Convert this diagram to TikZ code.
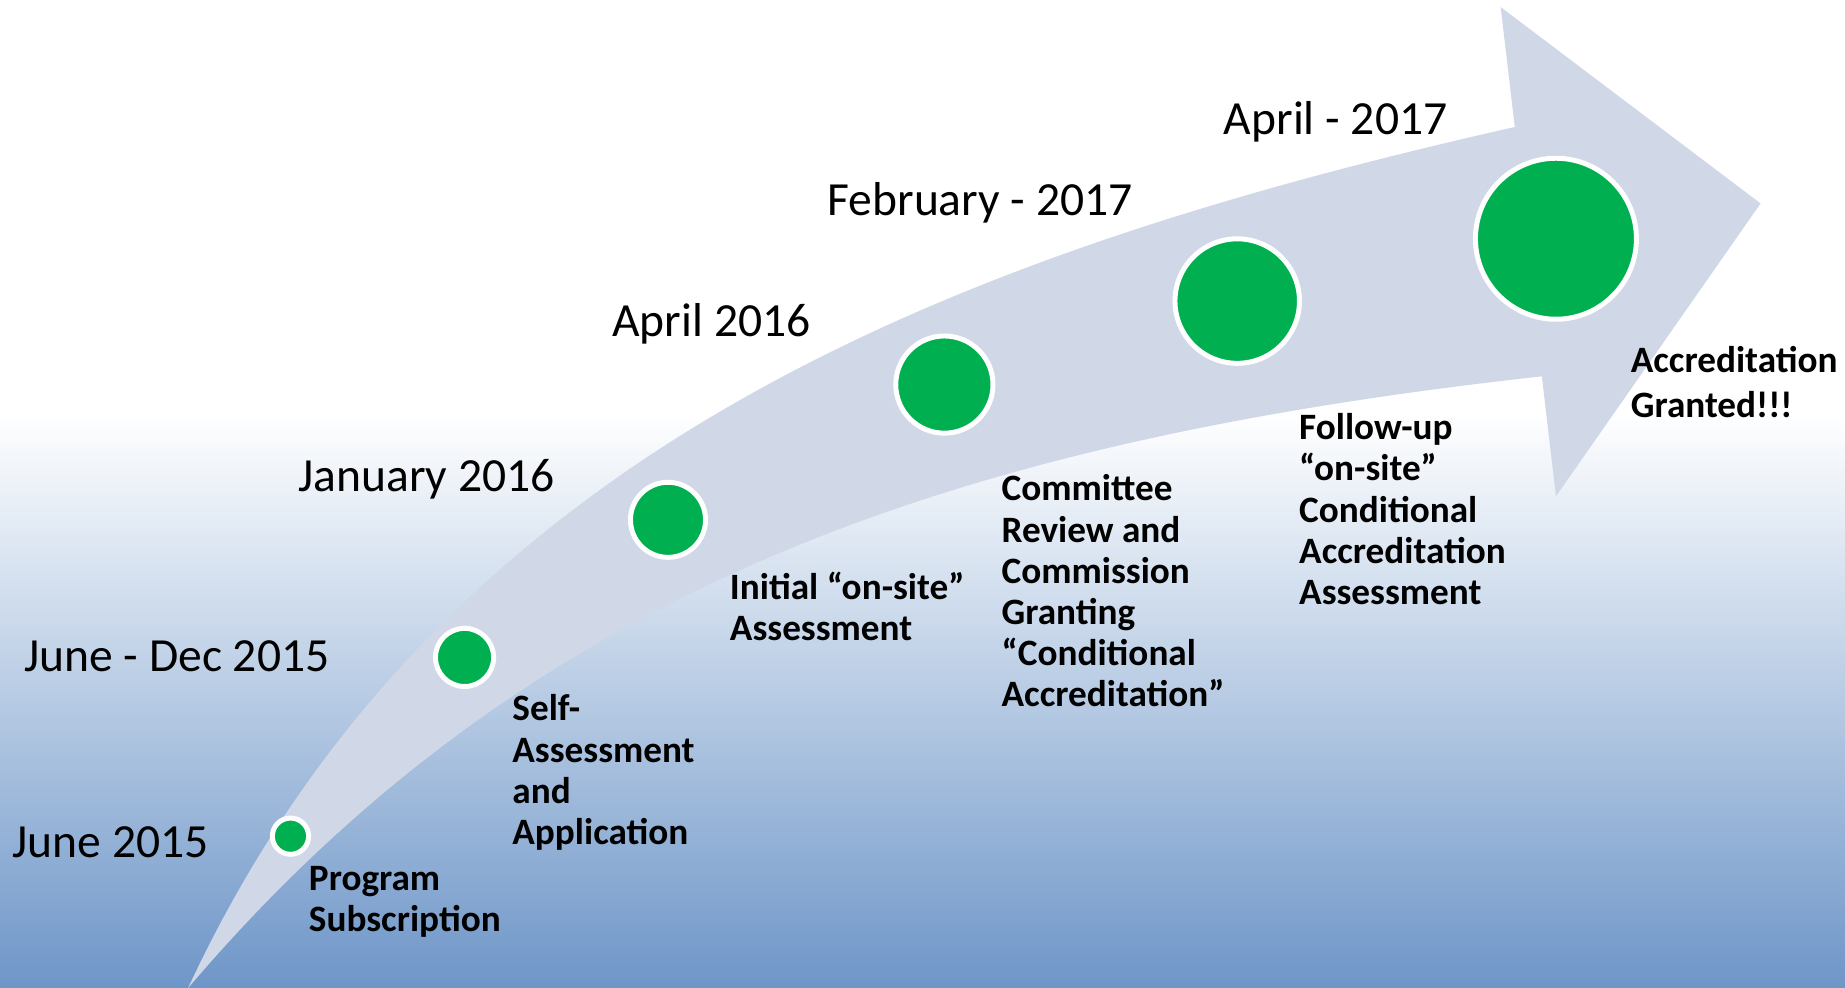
\documentclass[tikz,border=0pt]{standalone}
\usepackage{fontspec}
\setmainfont{Carlito}
\definecolor{bgblue}{RGB}{110,150,200}
\definecolor{band}{RGB}{208,216,232}
\definecolor{dotgreen}{RGB}{0,176,80}
\begin{document}
\begin{tikzpicture}[x=0.01cm,y=-0.01cm,
  dot/.style={circle, fill=dotgreen, draw=white, line width=1.2pt, inner sep=0pt},
  datelabel/.style={anchor=base west, inner sep=0pt, font=\fontsize{11.5pt}{14pt}\selectfont},
  eventlabel/.style={anchor=base west, inner sep=0pt, align=left, font=\fontsize{9pt}{9.96pt}\selectfont\bfseries}]
\useasboundingbox (0,0) rectangle (1568.8,840);
\fill[white] (0,0) rectangle (1568.8,352);
\shade[top color=white, bottom color=bgblue] (0,351) rectangle (1568.8,840);
% arrow
\fill[band] (160,840) .. controls (371,387) and (800,218) .. (1288,108) -- (1276,6) -- (1497,173) -- (1323,422) -- (1311,320) .. controls (814,375) and (452,497) .. (160,840) -- cycle;
% dots
\node[dot, minimum size=0.308cm] (c1) at (247,711) {};
\node[dot, minimum size=0.494cm] (c2) at (395,559) {};
\node[dot, minimum size=0.638cm] (c3) at (568,442) {};
\node[dot, minimum size=0.826cm] (c4) at (803,327) {};
\node[dot, minimum size=1.058cm] (c5) at (1052,256) {};
\node[dot, minimum size=1.368cm] (c6) at (1323,203) {};
% dates
\node[datelabel] (d1) at (10,729) {June 2015};
\node[datelabel] (d2) at (20,571) {June - Dec 2015};
\node[datelabel] (d3) at (253,418) {January 2016};
\node[datelabel] (d4) at (520,286) {April 2016};
\node[datelabel] (d5) at (703,183) {February - 2017};
\node[datelabel] (d6) at (1040,114) {April - 2017};
% events (anchor = baseline of the last line)
\node[eventlabel] (e1) at (262,792) {Program\\Subscription};
\node[eventlabel] (e2) at (435,718) {Self-\\Assessment\\and\\Application};
\node[eventlabel] (e3) at (620,545) {Initial “on-site”\\Assessment};
\node[eventlabel] (e4) at (851,601) {Committee\\Review and\\Commission\\Granting\\“Conditional\\Accreditation”};
\node[eventlabel] (e5) at (1104,514) {Follow-up\\“on-site”\\Conditional\\Accreditation\\Assessment};
\node[eventlabel, font=\fontsize{9pt}{10.8pt}\selectfont\bfseries] (e6) at (1386,355) {Accreditation\\Granted!!!};
\end{tikzpicture}
\end{document}
